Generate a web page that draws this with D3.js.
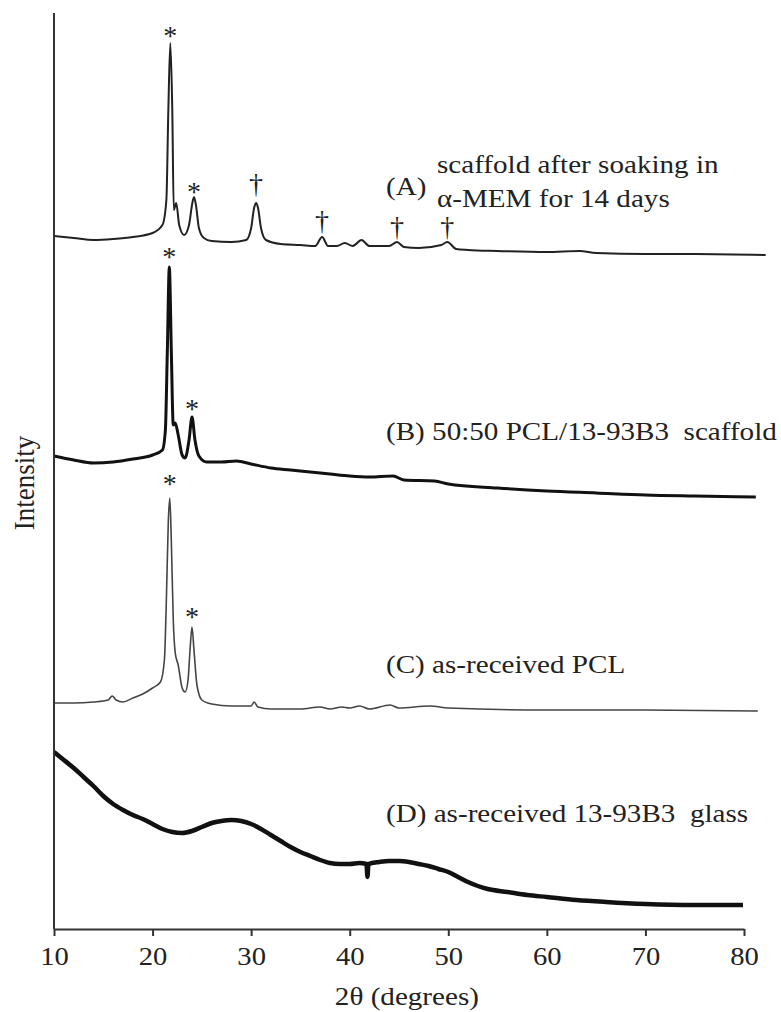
<!DOCTYPE html>
<html>
<head>
<meta charset="utf-8">
<script src="https://cdnjs.cloudflare.com/ajax/libs/d3/7.8.5/d3.min.js"></script>
<style>
  body { margin: 0; background: #fff; }
  svg { display: block; }
  text { font-family: "Liberation Serif", "Times New Roman", serif; fill: #222; }
</style>
</head>
<body>
<svg width="781" height="1012"></svg>
<script>
// XRD patterns (2theta in degrees, intensity in stacked arbitrary units)
const seriesA = [[10,693],[12,691],[14,689],[16,690],[18,692],[20,696],[21,704],[21.4,729],[21.6,819],[21.8,886],[22.0,819],[22.15,719],[22.4,726],[22.7,704],[23.2,694],[23.7,704],[24.0,724],[24.2,732],[24.4,724],[24.7,701],[25.2,691],[26,688],[28,687],[29.5,689],[30.0,701],[30.3,721],[30.5,726],[30.7,721],[31.0,701],[31.5,689],[33,685],[35,684],[36.5,683],[37.2,692],[37.8,683],[38.7,683],[39.5,686],[40.3,683],[41.2,689],[42,683],[44,683],[44.8,687],[45.5,682],[47,681],[49.3,684],[49.9,687],[50.8,680],[52,679],[55,678],[60,677],[63.3,678],[65,676],[70,675],[75,675],[82.2,674]];

const seriesB = [[10,473],[12,469],[14,466],[16,467],[18,470],[20,474],[21,479],[21.3,499],[21.5,579],[21.7,662],[21.9,579],[22.1,504],[22.3,506],[22.6,494],[23.0,474],[23.3,471],[23.7,489],[24.0,512],[24.3,489],[24.7,473],[25.5,467],[27,467],[28.5,468],[30,465],[32,461],[34,459],[36,457],[38,455],[40,453],[42,452],[44.4,453],[45.5,449],[48.6,448],[50,445],[55,441],[60,438],[65,436],[70,434],[75,433],[81.2,432]];

const seriesC = [[10,226],[12,226],[14,227],[15.5,229],[15.9,233],[16.3,229],[17,227],[18,231],[19,235],[20,241],[20.8,247],[21.2,269],[21.4,329],[21.6,409],[21.75,431],[21.9,389],[22.1,309],[22.3,276],[22.6,264],[23.0,241],[23.3,237],[23.6,249],[23.8,279],[24.0,302],[24.2,279],[24.5,244],[25.0,229],[26,225],[28,223],[30,223],[30.3,227],[30.7,222],[32,220],[35,220],[37,222],[38,220],[39.2,222],[40,221],[41,223],[42,220],[44.1,224],[45,221],[48.1,223],[50,221],[60,219],[70,219],[81.4,218]];

const seriesD = [[10,177],[11,169],[12,161],[13,152],[14,143],[15,133],[16,125],[17,119],[18,114],[19,110],[20,105],[21,100],[22,97],[23,96],[24,98],[25,102],[26,106],[27,108],[28,109],[29,108],[30,105],[31,100],[32,94],[33,88],[34,82],[35,77],[36,73],[37,69],[38,66],[39,65],[40,65],[41,66],[41.7,65],[41.8,52],[41.9,65],[43,67],[44,68],[45,68],[46,67],[47,65],[48,63],[49,60],[50,57],[51,52],[52,47],[53,43],[54,40],[56,37],[58,34],[60,32],[63,29],[66,27],[70,25],[75,24],[79.9,24]];

// peak markers: * = PCL, dagger = HA-like phase
const markerTheta = [21.8, 24.2, 30.5, 37.2, 44.8, 49.9, 21.7, 24.0, 21.75, 24.0];
const markerLevel = [897, 741, 743, 706, 700, 700, 676, 524, 449, 316];
const markerSymbol = ["*", "*", "\u2020", "\u2020", "\u2020", "\u2020", "*", "*", "*", "*"];

const xTicks = [10, 20, 30, 40, 50, 60, 70, 80];
const xTitle = "2\u03b8 (degrees)";
const yTitle = "Intensity";

const svg = d3.select("svg");

const x = d3.scaleLinear().domain([10, 80]).range([54, 744]);
const y = d3.scaleLinear().domain([0, 916]).range([929, 13]);

const line = d3.line()
    .curve(d3.curveMonotoneX)
    .x(d => x(d[0]))
    .y(d => y(d[1]));

const curves = [
    { data: seriesA, stroke: "#222", width: 2 },
    { data: seriesB, stroke: "#111", width: 3 },
    { data: seriesC, stroke: "#444", width: 1.6 },
    { data: seriesD, stroke: "#111", width: 4.5 }
];

svg.append("g")
    .selectAll("path")
    .data(curves)
    .enter()
    .append("path")
    .attr("d", d => line(d.data))
    .attr("fill", "none")
    .attr("stroke", d => d.stroke)
    .attr("stroke-width", d => d.width)
    .attr("stroke-linejoin", "round");

// axes
const xAxis = svg.append("g")
    .attr("transform", "translate(0,929)")
    .call(d3.axisBottom(x).tickValues(xTicks).tickSize(7).tickPadding(11).tickSizeOuter(0));

xAxis.select(".domain").attr("stroke", "#333").attr("stroke-width", 2);
xAxis.selectAll(".tick line").attr("stroke", "#333").attr("stroke-width", 2);
xAxis.selectAll(".tick text")
    .attr("font-size", 26)
    .attr("fill", "#222")
    .attr("font-family", "Liberation Serif, Times New Roman, serif")
    .attr("transform", "scale(1.1,1)");

svg.append("line")
    .attr("x1", x(10)).attr("x2", x(10))
    .attr("y1", 13).attr("y2", 929)
    .attr("stroke", "#333")
    .attr("stroke-width", 2);

svg.append("text")
    .attr("transform", `translate(${x(45.8)},1005) scale(1.12,1)`)
    .attr("text-anchor", "middle")
    .attr("font-size", 26)
    .text(xTitle);

svg.append("text")
    .attr("transform", "translate(34,483) rotate(-90) scale(1,1.1)")
    .attr("text-anchor", "middle")
    .attr("font-size", 27)
    .text(yTitle);

// markers
svg.append("g")
    .selectAll("text")
    .data(markerTheta)
    .enter()
    .append("text")
    .attr("x", d => x(d))
    .attr("y", (d, i) => y(markerLevel[i]) + (markerSymbol[i] === "*" ? 13 : 7))
    .attr("text-anchor", "middle")
    .attr("font-size", 28)
    .text((d, i) => markerSymbol[i]);

// series labels
const labels = [
    { t: "(A)", x: 386, y: 195 },
    { t: "scaffold after soaking in", x: 437, y: 173 },
    { t: "\u03b1-MEM for 14 days", x: 437, y: 207 },
    { t: "(B) 50:50 PCL/13-93B3  scaffold", x: 386, y: 440 },
    { t: "(C) as-received PCL", x: 386, y: 673 },
    { t: "(D) as-received 13-93B3  glass", x: 386, y: 822 }
];

svg.append("g")
    .selectAll("text")
    .data(labels)
    .enter()
    .append("text")
    .attr("transform", d => `translate(${d.x},${d.y}) scale(1.12,1)`)
    .attr("font-size", 26)
    .style("white-space", "pre")
    .text(d => d.t);
</script>
</body>
</html>
